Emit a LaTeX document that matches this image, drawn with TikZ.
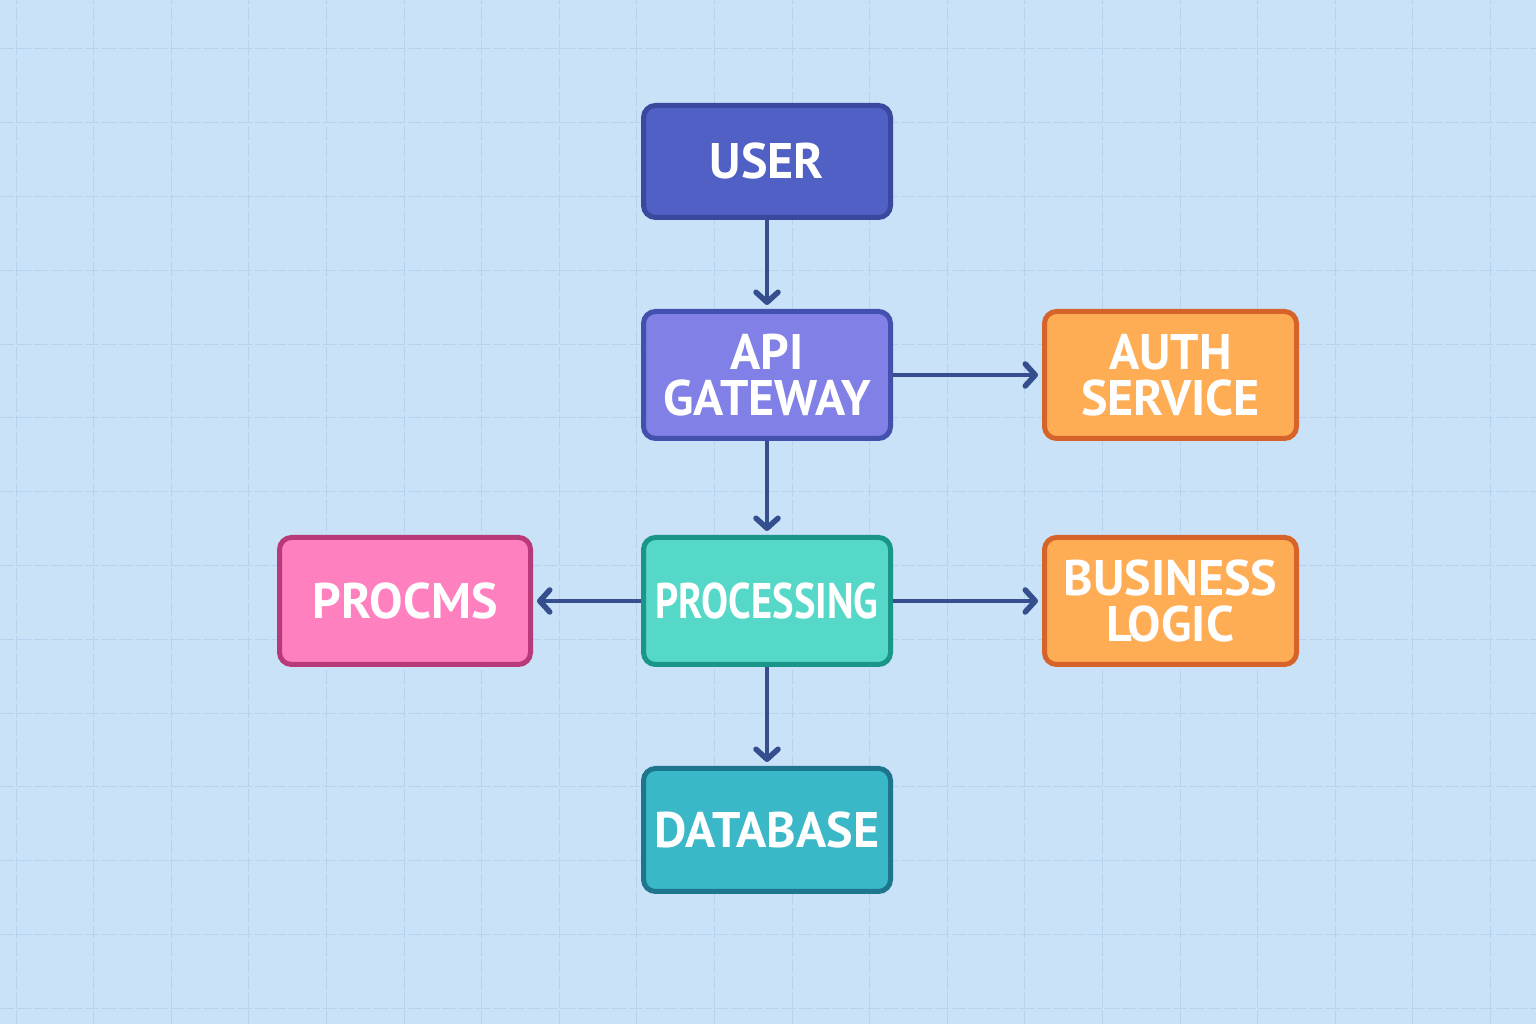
\documentclass[tikz,border=0pt]{standalone}
\usepackage{fontspec}
\setmainfont{PT Sans}
\usetikzlibrary{arrows.meta, positioning}

\definecolor{bgblue}{RGB}{201,226,247}
\definecolor{gridblue}{RGB}{182,210,239}
\definecolor{arrowblue}{RGB}{52,78,142}
\definecolor{userfill}{RGB}{80,96,196}
\definecolor{userline}{RGB}{58,72,158}
\definecolor{gatefill}{RGB}{128,128,230}
\definecolor{gateline}{RGB}{66,80,174}
\definecolor{orangefill}{RGB}{255,173,85}
\definecolor{orangeline}{RGB}{214,100,42}
\definecolor{pinkfill}{RGB}{255,128,190}
\definecolor{pinkline}{RGB}{184,58,120}
\definecolor{tealfill}{RGB}{86,216,200}
\definecolor{tealline}{RGB}{26,150,136}
\definecolor{dbfill}{RGB}{58,184,200}
\definecolor{dbline}{RGB}{30,118,142}

\begin{document}
\begin{tikzpicture}[x=1pt, y=1pt,
    % Styles
    box/.style={rounded corners=12pt, line width=5pt, minimum width=247pt, minimum height=127pt,
        inner sep=2pt, align=center, text=white, font=\fontsize{50}{46}\selectfont\bfseries},
    user box/.style={box, fill=userfill, draw=userline, minimum height=112pt},
    gate box/.style={box, fill=gatefill, draw=gateline},
    side box/.style={box, fill=orangefill, draw=orangeline, minimum width=252pt},
    pink box/.style={box, fill=pinkfill, draw=pinkline, minimum width=251pt},
    proc box/.style={box, fill=tealfill, draw=tealline},
    db box/.style={box, fill=dbfill, draw=dbline, minimum height=123pt},
    flow/.style={-{Straight Barb[length=10pt, width=22pt, line width=5.5pt 0, round]}, line width=4pt,
        arrowblue, shorten >=4pt},
    grid line/.style={gridblue, line width=1pt, dash pattern=on 14pt off 3pt},
]
    % Background and grid
    \fill[bgblue] (0,0) rectangle (1536,1024);
    \useasboundingbox (0,0) rectangle (1536,1024);
    \foreach \i in {0,...,19} \draw[grid line] (16+77.6*\i,0) -- (16+77.6*\i,1024);
    \foreach \j in {0,...,13} \draw[grid line] (0,975-73.8*\j) -- (1536,975-73.8*\j);

    % Main column - first one anchored, the rest relative
    \node[user box] (user) at (767,862.5) {USER};
    \node[gate box, below=89pt of user] (gateway) {API\\GATEWAY};
    \node[proc box, below=94pt of gateway] (proc) {\scalebox{0.81}[1]{PROCESSING}};
    \node[db box, below=99pt of proc] (db) {DATABASE};

    % Side boxes
    \node[side box, right=149pt of gateway] (auth) {AUTH\\SERVICE};
    \node[side box, right=149pt of proc] (logic) {BUSINESS\\LOGIC};
    \node[pink box, left=108pt of proc] (procms) {PROCMS};

    % Connectors
    \draw[flow] (user) -- (gateway);
    \draw[flow] (gateway) -- (auth);
    \draw[flow] (gateway) -- (proc);
    \draw[flow] (proc) -- (procms);
    \draw[flow] (proc) -- (logic);
    \draw[flow] (proc) -- (db);
\end{tikzpicture}
\end{document}
